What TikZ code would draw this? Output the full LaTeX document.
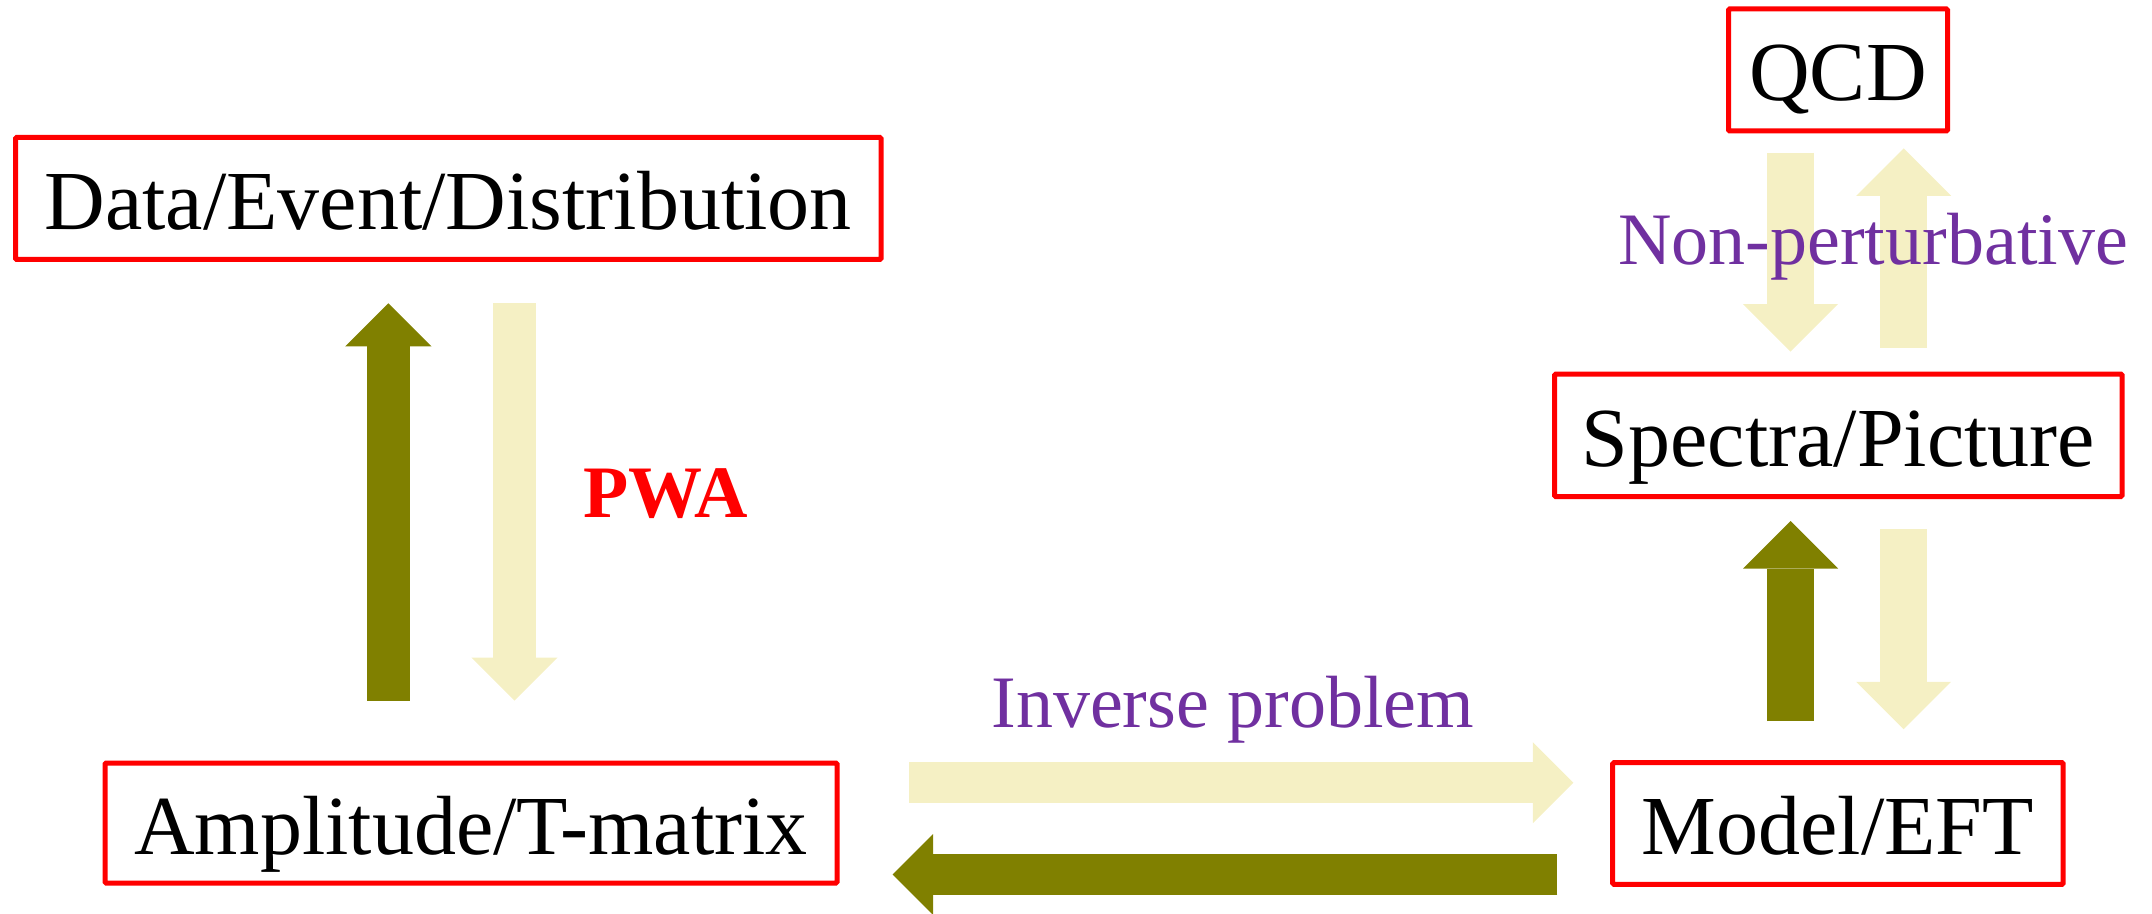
\documentclass[tikz,border=0pt]{standalone}
\usepackage{fontspec}
\setmainfont{Liberation Serif}
\usetikzlibrary{arrows.meta}
\definecolor{boxred}{RGB}{255,0,0}
\definecolor{olivearrow}{RGB}{128,128,0}
\definecolor{creamarrow}{RGB}{245,240,196}
\definecolor{labelpurple}{RGB}{112,48,160}
\tikzset{
  box/.style={draw=boxred, line width=2.5pt, rounded corners=0.6pt,
    inner sep=0pt, text height=31pt, text depth=0pt,
    font=\fontsize{42}{50}\selectfont},
  blockarrow/.style={line width=#1, line cap=butt,
    -{Triangle[length=0pt 1, width=0pt 2, line width=0pt]}},
  olivearr/.style={draw=olivearrow, blockarrow=#1},
  creamarr/.style={draw=creamarrow, blockarrow=#1},
  purplelabel/.style={text=labelpurple, inner sep=0pt, anchor=base west,
    font=\fontsize{37}{44}\selectfont},
  pwalabel/.style={text=boxred, inner sep=0pt, anchor=base west,
    font=\fontsize{37}{44}\selectfont\bfseries}
}
\begin{document}
\begin{tikzpicture}[x=0.5pt,y=-0.5pt]
\useasboundingbox (0,0) rectangle (2152,914);
% boxes
\node[box, minimum width=432.75pt, minimum height=61pt] (data) at (448.25,198.5) {Data/Event/Distribution};
\node[box, minimum width=366pt, minimum height=60pt] (amp) at (471,823) {Amplitude/T-matrix};
\node[box, minimum width=225.2pt, minimum height=60.8pt] (model) at (1837.9,823.5) {Model/EFT};
\node[box, minimum width=283.75pt, minimum height=61.25pt] (spec) at (1838.3,435.3) {Spectra/Picture};
\node[box, minimum width=109.5pt, minimum height=61pt] (qcd) at (1838,70) {QCD};
% arrow end points
\coordinate (ampUpS) at (388.3,700.7);
\coordinate (ampUpE) at (388.3,303.3);
\coordinate (dataDnS) at (514.5,303.3);
\coordinate (dataDnE) at (514.5,700.7);
\coordinate (qcdDnS) at (1790.5,152.7);
\coordinate (qcdDnE) at (1790.5,351.7);
\coordinate (specUpS) at (1903.7,347.7);
\coordinate (specUpE) at (1903.7,148.3);
\coordinate (modUpS) at (1790.7,721);
\coordinate (modUpE) at (1790.7,521);
\coordinate (specDnS) at (1903.6,529.3);
\coordinate (specDnE) at (1903.6,729.3);
\coordinate (invS) at (909,782.7);
\coordinate (invE) at (1573.3,782.7);
\coordinate (fwdS) at (1557.3,874.5);
\coordinate (fwdE) at (892.7,874.5);
% arrows
\draw[olivearr=21.6pt] (ampUpS) -- (ampUpE);
\draw[creamarr=21.6pt] (dataDnS) -- (dataDnE);
\draw[creamarr=23.75pt] (qcdDnS) -- (qcdDnE);
\draw[creamarr=23.75pt] (specUpS) -- (specUpE);
\draw[olivearr=23.75pt] (modUpS) -- (modUpE);
\draw[creamarr=23.75pt] (specDnS) -- (specDnE);
\draw[creamarr=20.25pt] (invS) -- (invE);
\draw[olivearr=20.25pt] (fwdS) -- (fwdE);
% labels
\node[pwalabel] (pwa) at (583,517) {PWA};
\node[purplelabel] (np) at (1618,264.3) {Non-perturbative};
\node[purplelabel] (inv) at (991,727.7) {Inverse problem};
\end{tikzpicture}
\end{document}
